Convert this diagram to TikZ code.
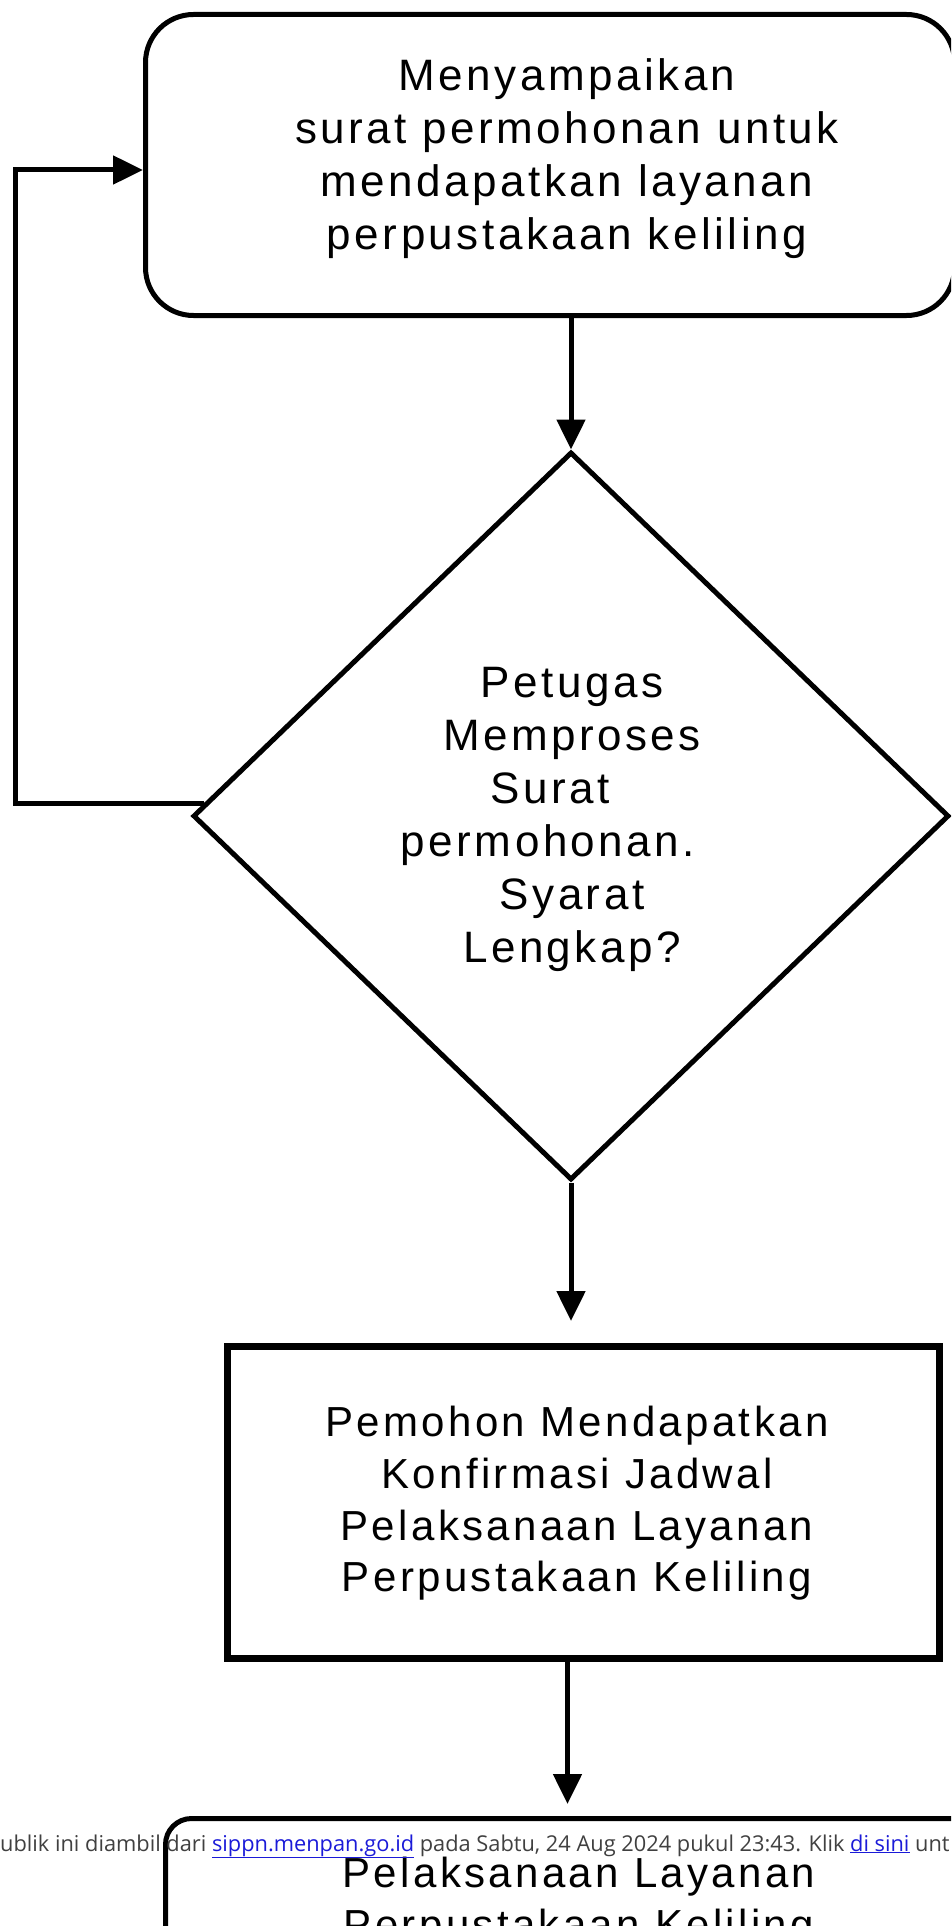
\documentclass[tikz,border=0pt]{standalone}
\usepackage{fontspec}
\usetikzlibrary{shapes.geometric,arrows.meta,calc}
\newfontfamily\diag[LetterSpace=8]{Liberation Sans}
\newfontfamily\foot{Open Sans}
\definecolor{footgray}{HTML}{404040}
\definecolor{linkblue}{HTML}{1A1AD8}
\begin{document}
\begin{tikzpicture}[x=1pt,y=-1pt,
  roundbox/.style={draw, line width=5pt, rounded corners=48pt, inner sep=0pt},
  roundboxb/.style={draw, line width=5pt, rounded corners=26pt, inner sep=0pt},
  plainbox/.style={draw, line width=7pt, inner sep=0pt},
  decision/.style={draw, diamond, line width=5pt, inner sep=0pt},
  conn/.style={line width=5pt, -{Triangle[width=28pt,length=30pt]}},
  txt/.style={inner sep=0pt, align=center, font=\diag\fontsize{44}{53}\selectfont},
  txtb/.style={inner sep=0pt, align=center, font=\diag\fontsize{42}{51.7}\selectfont}]
\useasboundingbox (0,0) rectangle (951,1926);
\clip (0,0) rectangle (951,1926);

% top rounded box
\node[roundbox, minimum width=809pt, minimum height=301pt, anchor=north west] (b1) at (143,12) {};
\node[txt, anchor=north] (t1) at (567,58) {Menyampaikan\\surat permohonan untuk\\mendapatkan layanan\\perpustakaan keliling};

% decision diamond
\node[decision, minimum width=756pt, minimum height=728pt] (d) at (571,816) {};
\node[txt, anchor=north] (t2) at (572,667) {Petugas\\Memproses\\Surat\rule{44pt}{0pt}\\permohonan.\rule{48pt}{0pt}\\Syarat\\Lengkap?};

% second box
\node[plainbox, minimum width=712pt, minimum height=312pt, anchor=north west] (b2) at (224,1343) {};
\node[txtb, anchor=north] (t3) at (577,1406) {Pemohon Mendapatkan\\Konfirmasi Jadwal\\Pelaksanaan Layanan\\Perpustakaan Keliling};

% bottom box (cut by page edge)
\node[roundboxb, minimum width=860pt, minimum height=300pt, anchor=north west] (b3) at (163,1816) {};
\node[txtb, anchor=north] (t4) at (579,1857) {Pelaksanaan Layanan\\Perpustakaan Keliling};

% connectors
\draw[conn] (b1.south -| d.north) -- (d.north);
\coordinate (fbs) at ($(d.west)!0.035!(d.north)$);
\coordinate (lp) at (15,170);
\draw[conn] (fbs) -| (lp) -- (lp -| b1.west);
\draw[conn, shorten >=22pt] (d.south) -- (d.south |- b2.north);
\draw[conn, shorten >=12pt] ([xshift=-16pt]b2.south) -- ([xshift=-16pt]b2.south |- b3.north);

% footer overlay
\node[anchor=base west, inner sep=0pt, font=\foot\fontsize{21.8}{26}\selectfont, text=footgray] (ft) at (0,1851)
  {ublik ini diambil dari \textcolor{linkblue}{\underline{sippn.menpan.go.id}} pada Sabtu, 24 Aug 2024 pukul 23:43. Klik \textcolor{linkblue}{\underline{di sini}} unt};
\end{tikzpicture}
\end{document}
